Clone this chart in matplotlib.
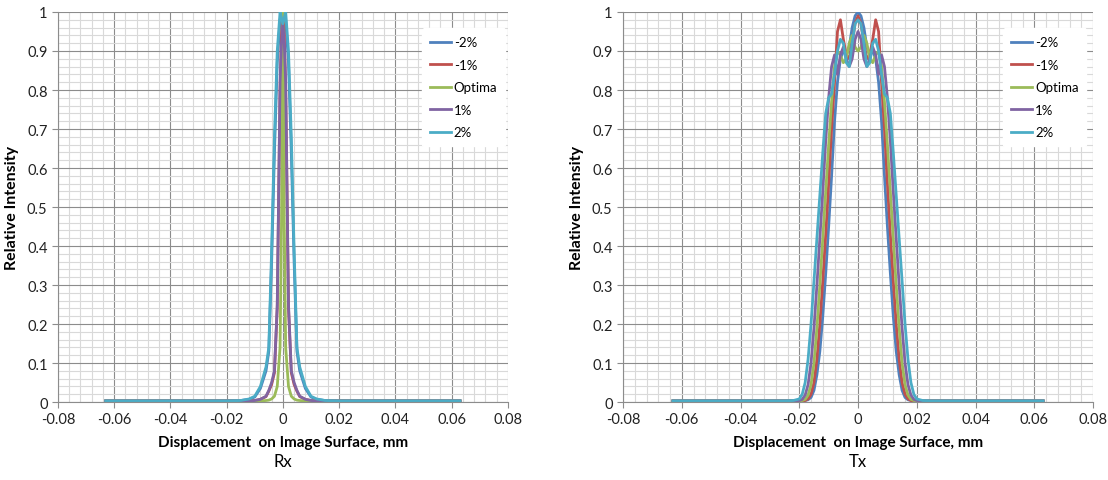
import numpy as np
import matplotlib.pyplot as plt
from matplotlib.ticker import MultipleLocator

plt.rcParams['font.family'] = ['Lato', 'DejaVu Sans']

labels = ['-2%', '-1%', 'Optima', '1%', '2%']
colors = ['#4F81BD', '#C0504D', '#9BBB59', '#8064A2', '#4BACC6']

# Rx: half profiles (x >= 0), mirrored for x < 0
rx_x = [0, 0.0005, 0.001, 0.002, 0.003, 0.004, 0.005, 0.006, 0.008, 0.010, 0.012, 0.015, 0.020, 0.063]
rx_y = {
    '-2%':    [1.00, 0.995, 0.98, 0.87, 0.64, 0.36, 0.13, 0.08, 0.035, 0.013, 0.007, 0.004, 0.003, 0.003],
    '-1%':    [1.00, 0.94, 0.80, 0.24, 0.075, 0.045, 0.028, 0.014, 0.007, 0.004, 0.003, 0.003, 0.003, 0.003],
    'Optima': [1.00, 0.45, 0.14, 0.04, 0.015, 0.008, 0.005, 0.004, 0.003, 0.003, 0.003, 0.003, 0.003, 0.003],
    '1%':     [0.97, 0.92, 0.82, 0.25, 0.08, 0.05, 0.03, 0.015, 0.007, 0.004, 0.003, 0.003, 0.003, 0.003],
    '2%':     [0.97, 0.985, 1.00, 0.90, 0.68, 0.39, 0.14, 0.09, 0.04, 0.015, 0.008, 0.004, 0.003, 0.003],
}

# Tx: half profiles (x >= 0), mirrored for x < 0
tx_x = [0, 0.001, 0.002, 0.003, 0.004, 0.005, 0.006, 0.007, 0.008, 0.009, 0.010, 0.011,
        0.012, 0.013, 0.014, 0.015, 0.016, 0.017, 0.018, 0.019, 0.020, 0.022, 0.025, 0.063]
tx_y = {
    '-2%':    [1.00, 0.99, 0.96, 0.91, 0.89, 0.90, 0.88, 0.82, 0.72, 0.58, 0.45, 0.33,
               0.22, 0.13, 0.07, 0.03, 0.012, 0.006, 0.004, 0.003, 0.003, 0.003, 0.003, 0.003],
    '-1%':    [0.99, 0.97, 0.92, 0.88, 0.89, 0.93, 0.98, 0.95, 0.82, 0.70, 0.56, 0.43,
               0.31, 0.20, 0.11, 0.05, 0.02, 0.008, 0.004, 0.003, 0.003, 0.003, 0.003, 0.003],
    'Optima': [0.90, 0.91, 0.94, 0.92, 0.88, 0.87, 0.89, 0.90, 0.86, 0.77, 0.66, 0.54,
               0.42, 0.30, 0.19, 0.10, 0.045, 0.018, 0.007, 0.004, 0.003, 0.003, 0.003, 0.003],
    '1%':     [0.95, 0.93, 0.88, 0.86, 0.88, 0.91, 0.89, 0.84, 0.89, 0.86, 0.78, 0.67,
               0.54, 0.42, 0.30, 0.19, 0.10, 0.045, 0.018, 0.007, 0.004, 0.003, 0.003, 0.003],
    '2%':     [0.98, 0.97, 0.92, 0.86, 0.87, 0.92, 0.93, 0.90, 0.84, 0.79, 0.78, 0.74,
               0.64, 0.53, 0.42, 0.31, 0.20, 0.11, 0.05, 0.02, 0.008, 0.004, 0.003, 0.003],
}


def mirror(xs, ys):
    xs = np.array(xs)
    ys = np.array(ys)
    return np.concatenate([-xs[:0:-1], xs]), np.concatenate([ys[:0:-1], ys])


def style_axes(ax, title):
    ax.set_xlim(-0.08, 0.08)
    ax.set_ylim(0, 1)
    ax.xaxis.set_major_locator(MultipleLocator(0.02))
    ax.xaxis.set_minor_locator(MultipleLocator(0.004))
    ax.yaxis.set_major_locator(MultipleLocator(0.1))
    ax.yaxis.set_minor_locator(MultipleLocator(0.02))
    ax.grid(which='major', color='#8c8c8c', lw=0.8)
    ax.grid(which='minor', color='#d9d9d9', lw=0.8)
    ax.set_axisbelow(True)
    for s in ax.spines.values():
        s.set_visible(False)
    ax.spines['bottom'].set_visible(True)
    ax.spines['left'].set_visible(True)
    ax.spines['bottom'].set_color('#8c8c8c')
    ax.spines['left'].set_color('#8c8c8c')
    ax.tick_params(which='major', length=4, color='#8c8c8c', labelsize=10.5, labelcolor='#222222')
    ax.tick_params(which='minor', length=0)
    ax.xaxis.set_major_formatter(lambda v, p: '0' if abs(v) < 1e-9 else f'{v:g}')
    ax.yaxis.set_major_formatter(lambda v, p: '0' if abs(v) < 1e-9 else f'{v:g}')
    ax.set_xlabel('Displacement  on Image Surface, mm', fontsize=11, fontweight='bold', labelpad=6)
    ax.set_ylabel('Relative Intensity', fontsize=11.5, fontweight='bold', labelpad=6)
    ax.text(0.5, -0.152, title, transform=ax.transAxes, ha='center', va='center', fontsize=12)
    leg = ax.legend(loc='upper left', bbox_to_anchor=(0.795, 0.975), fontsize=9.5, frameon=True,
                    handlelength=1.6, handletextpad=0.2, labelspacing=0.8, borderpad=0.6)
    leg.get_frame().set_edgecolor('white')
    leg.get_frame().set_facecolor('white')
    leg.get_frame().set_alpha(1)


fig = plt.figure(figsize=(11.08, 4.81), dpi=100)
ax1 = fig.add_axes([0.0523, 0.162, 0.406, 0.811])
ax2 = fig.add_axes([0.5623, 0.162, 0.4242, 0.811])

for lab, col in zip(labels, colors):
    x, y = mirror(rx_x, rx_y[lab])
    ax1.plot(x, y, color=col, lw=2, label=lab)
    x, y = mirror(tx_x, tx_y[lab])
    ax2.plot(x, y, color=col, lw=2, label=lab)

style_axes(ax1, 'Rx')
style_axes(ax2, 'Tx')

fig.savefig('out.png', dpi=100)
